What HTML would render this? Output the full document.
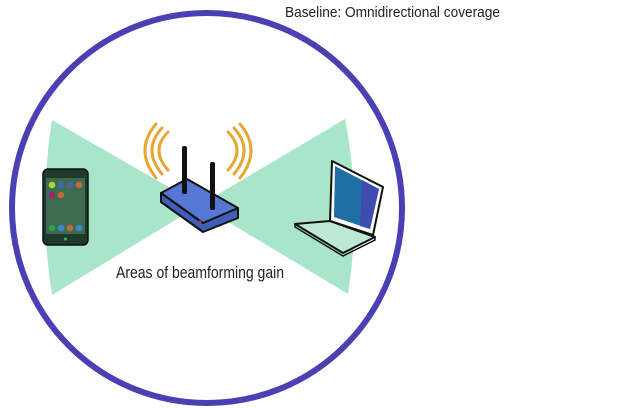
<!DOCTYPE html>
<html><head><meta charset="utf-8"><style>
html,body{margin:0;padding:0;background:#fff;}
svg{display:block}
</style></head><body>
<svg width="625" height="408" viewBox="0 0 625 408" xmlns="http://www.w3.org/2000/svg">
<rect width="625" height="408" fill="#fff"/>
<circle cx="207" cy="208" r="195" fill="none" stroke="#4a40b4" stroke-width="6"/>
<!-- wedges -->
<path d="M200,205 L52,120 Q38,207 52,295 Z" fill="#a9e5c9"/>
<path d="M200,205 L345,119 Q362,206 348,294 Z" fill="#a9e5c9"/>
<!-- waves -->
<g fill="none" stroke="#e8a633" stroke-width="3" stroke-linecap="round">
<path d="M168,132 Q150,150 168,170"/>
<path d="M162,128 Q142,150 162,174"/>
<path d="M156,124 Q134,150 156,178"/>
<path d="M228,132 Q246,150 228,170"/>
<path d="M234,128 Q254,150 234,174"/>
<path d="M240,124 Q262,150 240,178"/>
</g>
<!-- router -->
<path d="M161,193 L161,202 L203,232 L238,218 L238,208 L203,223 Z" fill="#3d5fb8" stroke="#111" stroke-width="2" stroke-linejoin="round"/>
<path d="M161,193 L187,179 L238,208 L203,223 Z" fill="#5678d4" stroke="#111" stroke-width="2" stroke-linejoin="round"/>
<circle cx="200" cy="222" r="1.5" fill="#c33"/>
<rect x="182" y="146" width="5" height="48" rx="2" fill="#111"/>
<rect x="210" y="162" width="5" height="48" rx="2" fill="#111"/>
<!-- phone -->
<rect x="43" y="169" width="45" height="76" rx="5" fill="#1f3a2a" stroke="#111" stroke-width="1.5"/>
<rect x="46" y="178" width="39" height="56" fill="#3c6b50"/>
<circle cx="52" cy="185" r="3.3" fill="#a8d83a"/><circle cx="61" cy="185" r="3.3" fill="#3b6aa8"/><circle cx="70" cy="185" r="3.3" fill="#4a64a0"/><circle cx="79" cy="185" r="3.3" fill="#c06a3a"/>
<circle cx="52" cy="195" r="3.3" fill="#a0206a"/><circle cx="61" cy="195" r="3.3" fill="#c06a3a"/>
<circle cx="52" cy="228" r="3.3" fill="#2fa050"/><circle cx="61" cy="228" r="3.3" fill="#3a8ac8"/><circle cx="70" cy="228" r="3.3" fill="#c06a3a"/><circle cx="79" cy="228" r="3.3" fill="#3a8ac8"/>
<circle cx="65.5" cy="239" r="1.5" fill="#4a6"/>
<!-- laptop -->
<path d="M332,161 L383,187 L373,235 L330,221 Z" fill="#fff" stroke="#111" stroke-width="2" stroke-linejoin="round"/>
<path d="M335,166 L379,189 L370,229 L334,217 Z" fill="#1f6fa5"/>
<path d="M362,180 L379,189 L370,229 L360,226 Z" fill="#3e4bb0"/>
<path d="M295,224 L330,221 L375,237 L343,253 Z" fill="#bde9d3" stroke="#111" stroke-width="2" stroke-linejoin="round"/>
<path d="M295,224 L295,227 L343,256 L375,240 L375,237" fill="none" stroke="#111" stroke-width="1.5"/>
<!-- text -->
<text x="116" y="278" font-family="Liberation Sans, sans-serif" font-size="17" textLength="168" lengthAdjust="spacingAndGlyphs" fill="#222">Areas of beamforming gain</text>
<text x="285" y="17" font-family="Liberation Sans, sans-serif" font-size="15" textLength="215" lengthAdjust="spacingAndGlyphs" fill="#222">Baseline: Omnidirectional coverage</text>
</svg>
</body></html>
